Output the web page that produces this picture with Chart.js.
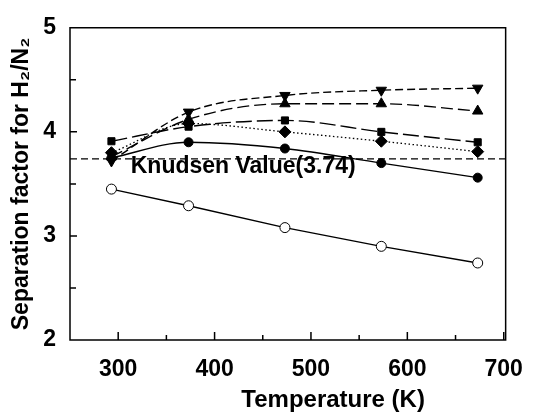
<!DOCTYPE html>
<html>
<head>
<meta charset="utf-8">
<script src="https://cdn.jsdelivr.net/npm/chart.js@4"></script>
<style>
  html, body { margin: 0; padding: 0; background: #fff; }
  #wrap { width: 539px; height: 412px; }
</style>
</head>
<body>
<div id="wrap"><canvas id="sepChart" width="539" height="412"></canvas></div>
<script>
// temperatures (K) and separation factors
var temps = [293, 373, 473, 573, 673];
var openCircle = [3.45, 3.29, 3.08, 2.90, 2.74];
var filledCircle = [3.75, 3.90, 3.84, 3.70, 3.56];
var squares = [3.91, 4.05, 4.11, 4.00, 3.90];
var diamonds = [3.80, 4.08, 4.00, 3.91, 3.81];
var triUp = [3.76, 4.12, 4.27, 4.27, 4.20];
var triDown = [3.72, 4.19, 4.35, 4.40, 4.42];

var knudsenValue = 3.74;
var knudsenLabel = 'Knudsen Value(3.74)';

var xTickLabels = [300, 400, 500, 600, 700];
var xMinorTicks = [350, 450, 550, 650];
var yTickLabels = [2, 3, 4, 5];
var yMinorTicks = [2.5, 3.5, 4.5];

var FONT = '"Liberation Sans", Arial, Helvetica, sans-serif';

function pts(ys) {
  return temps.map(function(t, i) { return { x: t, y: ys[i] }; });
}

function series(ys, style, dash, opts) {
  var d = {
    data: pts(ys),
    borderColor: '#000',
    backgroundColor: '#000',
    borderWidth: 1.4,
    borderDash: dash,
    pointStyle: style,
    pointRadius: 5,
    pointBorderColor: '#000',
    pointBackgroundColor: '#000',
    pointBorderWidth: 1,
    cubicInterpolationMode: 'monotone'
  };
  for (var k in opts) d[k] = opts[k];
  return d;
}

// frame box, inward ticks and free text
var framePlugin = {
  id: 'frame',
  afterDraw: function(chart) {
    var ctx = chart.ctx, a = chart.chartArea;
    var x = chart.scales.x, y = chart.scales.y;
    ctx.save();
    ctx.globalAlpha = 1;
    ctx.globalCompositeOperation = 'source-over';
    ctx.setLineDash([]);
    ctx.lineDashOffset = 0;
    ctx.strokeStyle = '#000';
    ctx.lineWidth = 1.5;
    ctx.beginPath();
    ctx.rect(a.left, a.top, a.right - a.left, a.bottom - a.top);
    xTickLabels.forEach(function(v) {
      var p = x.getPixelForValue(v);
      ctx.moveTo(p, a.bottom); ctx.lineTo(p, a.bottom - 8);
    });
    xMinorTicks.forEach(function(v) {
      var p = x.getPixelForValue(v);
      ctx.moveTo(p, a.bottom); ctx.lineTo(p, a.bottom - 5);
    });
    yTickLabels.forEach(function(v) {
      var p = y.getPixelForValue(v);
      ctx.moveTo(a.left, p); ctx.lineTo(a.left + 7, p);
    });
    yMinorTicks.forEach(function(v) {
      var p = y.getPixelForValue(v);
      ctx.moveTo(a.left, p); ctx.lineTo(a.left + 6, p);
    });
    ctx.stroke();

    ctx.fillStyle = '#000';
    ctx.font = 'bold 23px ' + FONT;
    ctx.textAlign = 'left';
    ctx.textBaseline = 'alphabetic';
    ctx.fillText(knudsenLabel, x.getPixelForValue(313), y.getPixelForValue(knudsenValue) + 14);

    ctx.font = 'bold 24px ' + FONT;
    ctx.textAlign = 'center';
    ctx.fillText('Temperature (K)', x.getPixelForValue(523), 407);
    ctx.restore();
  }
};

new Chart(document.getElementById('sepChart').getContext('2d'), {
  type: 'line',
  data: {
    datasets: [
      {
        data: [{ x: 250, y: knudsenValue }, { x: 702, y: knudsenValue }],
        borderColor: '#000',
        borderWidth: 1.2,
        borderDash: [7, 4],
        pointRadius: 0,
        tension: 0
      },
      series(openCircle, 'circle', [], { pointBackgroundColor: '#fff', pointRadius: 5, cubicInterpolationMode: 'default', tension: 0 }),
      series(filledCircle, 'circle', [], { pointRadius: 4.5 }),
      series(squares, 'rect', [16, 5], { pointRadius: 5 }),
      series(diamonds, 'rectRot', [1.5, 2.5], { pointRadius: 6, borderWidth: 1.3 }),
      series(triUp, 'triangle', [12, 5], { pointRadius: 6 }),
      series(triDown, 'triangle', [8, 4], { pointRadius: 6, pointRotation: 180 })
    ]
  },
  options: {
    responsive: false,
    animation: false,
    layout: { padding: { top: 21, right: 20, left: 2, bottom: 0 } },
    plugins: { legend: { display: false }, tooltip: { enabled: false } },
    scales: {
      x: {
        type: 'linear',
        min: 250,
        max: 702,
        afterBuildTicks: function(scale) {
          scale.ticks = xTickLabels.map(function(v) { return { value: v }; });
        },
        afterFit: function(scale) { scale.height = 72; },
        grid: { drawOnChartArea: false, drawTicks: false },
        border: { display: false },
        ticks: { color: '#000', padding: 16, font: { family: FONT, size: 23, weight: 'bold' } }
      },
      y: {
        type: 'linear',
        min: 2,
        max: 5,
        afterBuildTicks: function(scale) {
          scale.ticks = yTickLabels.map(function(v) { return { value: v }; });
        },
        afterFit: function(scale) { scale.width = 68; },
        grid: { drawOnChartArea: false, drawTicks: false },
        border: { display: false },
        ticks: { color: '#000', padding: 14, font: { family: FONT, size: 23, weight: 'bold' } },
        title: {
          display: true,
          text: 'Separation factor for H\u2082/N\u2082',
          color: '#000',
          font: { family: FONT, size: 23, weight: 'bold' },
          padding: { top: 6, bottom: 0 }
        }
      }
    }
  },
  plugins: [framePlugin]
});
</script>
</body>
</html>
